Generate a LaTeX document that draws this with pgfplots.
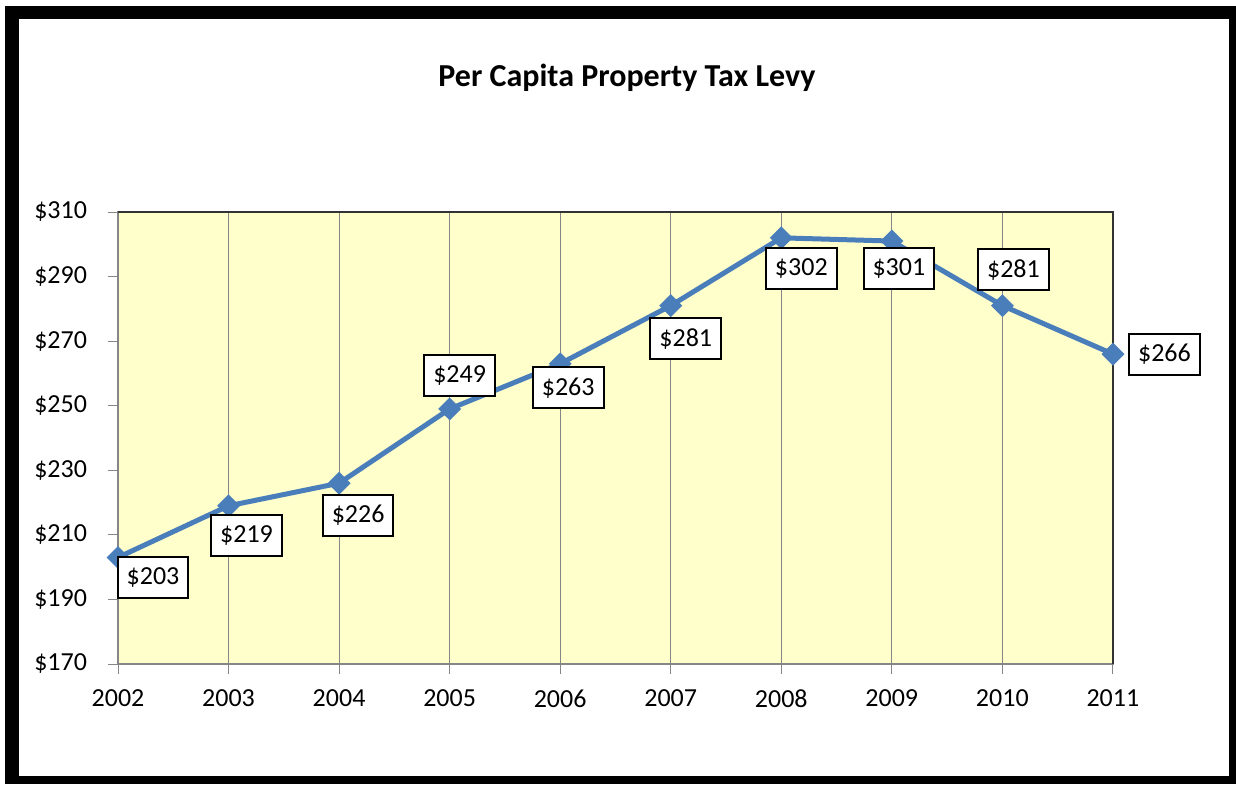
\documentclass[border=0pt]{standalone}
\usepackage{fontspec}
\setmainfont{Carlito}
\usepackage{pgfplots}
\usepackage{pgfplotstable}
\pgfplotsset{compat=1.18}
\definecolor{linblue}{HTML}{4A7EBB}
\definecolor{plotbg}{HTML}{FFFFCC}
\definecolor{gridgray}{HTML}{868686}

% per capita levy, with label offsets (pt) as in the original
\pgfplotstableread{
year levy dx dy
2002 203 17.5 -10
2003 219 9 -15
2004 226 9.5 -16
2005 249 5 16.5
2006 263 4 -12
2007 281 7.5 -16.5
2008 302 10 -15.5
2009 301 3.5 -13.75
2010 281 5.5 18
2011 266 25.75 0
}\levy

\begin{document}
\begin{tikzpicture}
\path[use as bounding box] (0,0) rectangle (618pt,392pt);
\fill[white] (0,0) rectangle (618pt,392pt);
\fill[black] (2.5pt,0) rectangle (618pt,389pt);
\fill[white] (9.5pt,4pt) rectangle (614.5pt,382.5pt);
\node[font=\bfseries\fontsize{16}{18}\selectfont] at (313.5pt,353pt) {Per Capita Property Tax Levy};
\begin{axis}[
  at={(59pt,60pt)}, anchor=south west,
  scale only axis, width=497.5pt, height=226pt,
  xmin=2002, xmax=2011, ymin=170, ymax=310,
  xtick={2002,...,2011}, ytick={170,190,...,310},
  axis background/.style={fill=plotbg},
  xmajorgrids, major grid style={gridgray, line width=0.5pt},
  axis line style={gridgray, line width=0.75pt},
  tick style={gridgray, line width=0.5pt},
  tick align=outside, major tick length=5pt, tick pos=left,
  ticklabel style={font=\fontsize{13}{15}\selectfont},
  /pgf/number format/assume math mode=true,
  xticklabel style={/pgf/number format/1000 sep=, yshift=-4.5pt},
  yticklabel style={xshift=-7pt},
  yticklabel={\$\pgfmathprintnumber{\tick}},
  clip=false,
]
\draw[black!80, line width=0.75pt] (rel axis cs:0,1) -- (rel axis cs:1,1) -- (rel axis cs:1,0);
\addplot[linblue, line width=2.5pt, mark=square*, mark size=2.8pt,
  mark options={rotate=45, solid},
  visualization depends on={\thisrow{dx} \as \dx},
  visualization depends on={\thisrow{dy} \as \dy},
  nodes near coords={\$\pgfmathprintnumber[1000 sep=]{\pgfplotspointmeta}},
  point meta=y,
  nodes near coords style={anchor=center, xshift=\dx pt, yshift=\dy pt,
    fill=white, draw=black, line width=1pt, text=black,
    font=\fontsize{13}{15}\selectfont, inner xsep=4.5pt,
    minimum height=20.5pt},
] table[x=year, y=levy] {\levy};
\end{axis}
\end{tikzpicture}
\end{document}
